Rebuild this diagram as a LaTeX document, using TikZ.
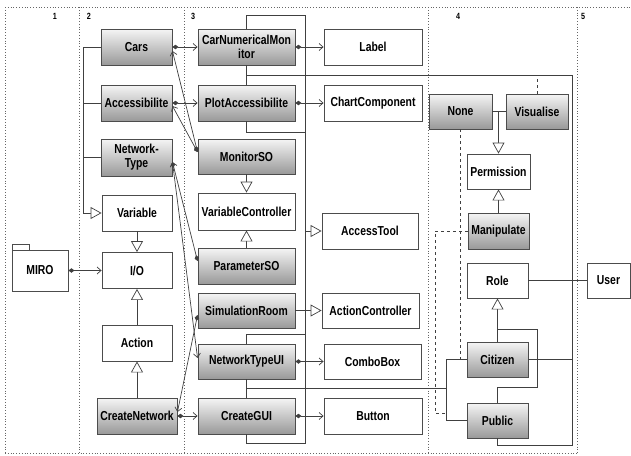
\documentclass[tikz,border=0pt]{standalone}
\usepackage{fontspec}
\setmainfont{Liberation Sans}[FakeStretch=0.8]
\usetikzlibrary{arrows.meta,calc}
\begin{document}
\begin{tikzpicture}[x=1pt,y=-1pt,
  lbl/.style={font=\fontsize{13}{14}\selectfont\bfseries, align=center, inner sep=1pt},
  wbox/.style={lbl, draw=black!70, line width=0.9pt, fill=white},
  gbox/.style={wbox, top color=white!96!black, bottom color=black!40},
  conn/.style={draw=black!75, line width=0.7pt},
  assoc/.style={conn, arrows={Diamond[length=6pt,width=4.5pt]-Straight Barb[length=4pt,width=7pt]}},
  gen/.style={conn, -{Triangle[open,length=11pt,width=12pt,fill=white]}},
  dep/.style={conn, dashed},
  frame/.style={draw=black!60, line width=0.8pt, dotted},
  colno/.style={font=\fontsize{9}{10}\selectfont\bfseries, inner sep=0pt}
]
\useasboundingbox (0,0) rectangle (631,455);
% frame
\draw[frame] (5,7) -- (631,7);
\draw[frame] (5,453) -- (577,453);
\foreach \xx in {5,79,184,428,577} \draw[frame] (\xx,7) -- (\xx,453);
\node[colno] (c1) at (55,16) {1};
\node[colno] (c2) at (89,16) {2};
\node[colno] (c3) at (193,16) {3};
\node[colno] (c4) at (458,16) {4};
\node[colno] (c5) at (583,16) {5};

% column 1
\draw[wbox] (12,244) rectangle (29,250);
\node[wbox, minimum width=56pt, minimum height=41pt] (miro) at (40,270.5) {MIRO};

% column 2
\node[gbox, minimum width=71pt, minimum height=36pt] (cars) at (136.5,47) {Cars};
\node[gbox, minimum width=71pt, minimum height=36pt] (acc) at (136.5,103) {Accessibilite};
\node[gbox, minimum width=71pt, minimum height=37pt] (ntype) at (136.5,157.5) {Network-\\Type};
\node[wbox, minimum width=70pt, minimum height=36pt] (variable) at (137,213) {Variable};
\node[wbox, minimum width=70pt, minimum height=36pt] (io) at (137,270.5) {I/O};
\node[wbox, minimum width=70pt, minimum height=36pt] (action) at (137,343) {Action};
\node[gbox, minimum width=80pt, minimum height=36pt] (createnet) at (137,416) {CreateNetwork};

% column 3
\node[gbox, minimum width=97pt, minimum height=36pt] (cnm) at (246.5,47) {CarNumericalMon\\itor};
\node[gbox, minimum width=97pt, minimum height=36pt] (pa) at (246.5,103) {PlotAccessibilite};
\node[gbox, minimum width=97pt, minimum height=35pt] (monitorso) at (246.5,156.5) {MonitorSO};
\node[wbox, minimum width=97pt, minimum height=37pt] (varctrl) at (246.5,211.5) {VariableController};
\node[gbox, minimum width=97pt, minimum height=36pt] (paramso) at (246.5,266) {ParameterSO};
\node[gbox, minimum width=97pt, minimum height=35pt] (simroom) at (246.5,310.5) {SimulationRoom};
\node[gbox, minimum width=97pt, minimum height=35pt] (ntui) at (246.5,361.5) {NetworkTypeUI};
\node[gbox, minimum width=97pt, minimum height=36pt] (cgui) at (246.5,416) {CreateGUI};

\node[wbox, minimum width=98pt, minimum height=36pt] (label) at (373,47) {Label};
\node[wbox, minimum width=98pt, minimum height=36pt] (chart) at (373,103) {ChartComponent};
\node[wbox, minimum width=96pt, minimum height=36pt] (accesstool) at (370,231) {AccessTool};
\node[wbox, minimum width=97pt, minimum height=35pt] (actionctrl) at (370.5,310.5) {ActionController};
\node[wbox, minimum width=97pt, minimum height=35pt] (combobox) at (372.5,361.5) {ComboBox};
\node[wbox, minimum width=98pt, minimum height=36pt] (button) at (373,416) {Button};

% column 4
\node[gbox, minimum width=63pt, minimum height=35pt] (none) at (460.5,111.5) {None};
\node[gbox, minimum width=62pt, minimum height=35pt] (visualise) at (537,111.5) {Visualise};
\node[wbox, minimum width=63pt, minimum height=35pt] (permission) at (498.5,171.5) {Permission};
\node[gbox, minimum width=61pt, minimum height=36pt] (manipulate) at (498.5,231) {Manipulate};
\node[wbox, minimum width=61pt, minimum height=35pt] (role) at (497.5,280.5) {Role};
\node[gbox, minimum width=61pt, minimum height=35pt] (citizen) at (497.5,359.5) {Citizen};
\node[gbox, minimum width=61pt, minimum height=35pt] (public) at (497.5,420.5) {Public};
\node[wbox, minimum width=43pt, minimum height=35pt] (user) at (608.5,280.5) {User};

% associations
\draw[assoc] (cars.east) -- (cnm.west);
\draw[assoc] (acc.east) -- (pa.west);
\draw[assoc] (cnm.east) -- (label.west);
\draw[assoc] (pa.east) -- (chart.west);
\draw[assoc] (ntui.east) -- (combobox.west);
\draw[assoc] (cgui.east) -- (button.west);
\draw[assoc] (createnet.east) -- (cgui.west);
\draw[assoc] (miro.east) -- (io.west);
\draw[assoc] ($(monitorso.west)+(0,-4.5)$) -- ($(cars.east)+(0,4)$);
\draw[assoc] ($(monitorso.west)+(0,-4.5)$) -- ($(acc.east)+(0,3)$);
\draw[assoc] ($(paramso.west)+(0,-5)$) -- ($(ntype.east)+(0,4.5)$);
\draw[assoc] ($(ntype.east)+(0,4.5)$) -- ($(ntui.west)+(0,-3.5)$);
\draw[assoc] ($(simroom.west)+(0,4.5)$) -- ($(createnet.east)+(0,-4)$);

% generalizations column 2/3
\draw[conn] (cars.west) -- (83,47);
\draw[conn] (acc.west) -- (83,103);
\draw[conn] (ntype.west) -- (83,157.5);
\draw[gen] (83,47) |- (variable.west);
\draw[gen] (variable.south) -- (io.north);
\draw[gen] (action.north) -- (io.south);
\draw[gen] (createnet.north) -- (action.south);
\draw[gen] (monitorso.south) -- (varctrl.north);
\draw[gen] (paramso.north) -- (varctrl.south);

% right bus structure
\draw[conn] (cnm.north) |- (305,15) -- (305,443) -| (cgui.south);
\draw[conn] (cnm.south) -- (pa.north);
\draw[conn] (246.5,75) -| (572,445) -| (public.south);
\draw[conn] (pa.south) |- (305,132);
\draw[gen] (simroom.east) -- (actionctrl.west);
\draw[gen] (305,231) -- (accesstool.west);
\draw[conn] (ntui.north) |- (305,334);
\draw[conn] (ntui.south) -- (cgui.north);
\draw[conn] (246.5,388) -- (446,388);
\draw[conn] (citizen.west) -| (446,420.5) -- (public.west);
\draw[conn] (citizen.east) -- (572,359.5);
\draw[conn] (role.east) -- (user.west);
\draw[gen] (citizen.north) -- (role.south);
\draw[conn] (public.north) |- (537,387) |- (497.5,329);

% column 4 permissions
\draw[conn] (none.east) -- (visualise.west);
\draw[gen] (permission.north |- none.east) -- (permission.north);
\draw[gen] (manipulate.north) -- (permission.south);
\draw[dep] (visualise.north) -- (visualise.north |- 0,75);
\draw[dep] (none.south) -- (none.south |- citizen.west);
\draw[dep] (manipulate.west) -| (435,413) -- (446,413);
\end{tikzpicture}
\end{document}
